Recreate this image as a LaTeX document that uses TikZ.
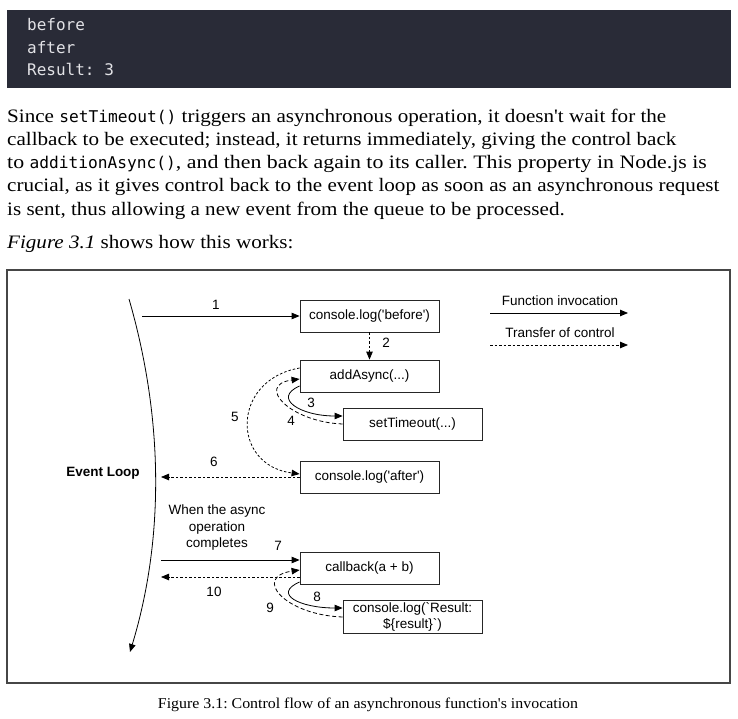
\documentclass[tikz,border=0pt]{standalone}
\usepackage{fontspec}
\setmainfont{Liberation Serif}
\newfontfamily\dsans{Liberation Sans}
\newfontfamily\codefont{DejaVu Sans Mono}
\newfontfamily\bodyfont[FakeStretch=1.11]{Liberation Serif}
\newfontfamily\bodywide[FakeStretch=1.15]{Liberation Serif}
\newfontfamily\capfont[FakeStretch=1.06]{Liberation Serif}
\usetikzlibrary{arrows.meta}
\definecolor{codebg}{RGB}{41,43,55}
\definecolor{codefg}{RGB}{226,226,230}
\definecolor{frameclr}{RGB}{70,70,70}
\newcommand{\cd}[1]{{\codefont\fontsize{16.2}{18}\selectfont #1}}
\newcommand{\sq}{\symbol{"27}}
\frenchspacing
\tikzset{
  para/.style={anchor=base west, inner sep=0pt, font=\bodyfont\fontsize{19}{23}\selectfont},
  codeline/.style={anchor=base west, inner sep=0pt, text=codefg, font=\codefont\fontsize{16}{23}\selectfont},
  fbox/.style={draw=black!85, line width=0.8pt, minimum width=139pt, minimum height=32pt, inner sep=0pt, font=\dsans\fontsize{13.5}{15}\selectfont, align=center},
  lbl/.style={inner sep=0pt, font=\dsans\fontsize{13.5}{15}\selectfont},
  inv/.style={draw=black, line width=0.8pt, -{Triangle[length=8pt,width=6.5pt]}},
  ctl/.style={draw=black, line width=0.8pt, dash pattern=on 2.5pt off 2pt, -{Triangle[length=8pt,width=6.5pt]}},
  dsh/.style={draw=black, line width=0.8pt, dash pattern=on 4pt off 2.5pt, -{Triangle[length=8pt,width=6.5pt]}}
}
\begin{document}
\begin{tikzpicture}[x=1pt,y=-1pt]
\useasboundingbox (0,0) rectangle (738,719);
\fill[white] (0,0) rectangle (738,719);
% code block
\fill[codebg] (7,10) rectangle (731,88);
\node[codeline] (c1) at (27,31) {before};
\node[codeline] (c2) at (27,54) {after};
\node[codeline] (c3) at (27,76) {Result: 3};
% paragraph
\node[para] (p1) at (7,123) {Since \cd{setTimeout()} triggers an asynchronous operation, it doesn\sq t wait for the};
\node[para] (p2) at (7,146) {callback to be executed; instead, it returns immediately, giving the control back};
\node[para, font=\bodywide\fontsize{19}{23}\selectfont] (p3) at (7,169) {to \cd{additionAsync()}, and then back again to its caller. This property in Node.js is};
\node[para] (p4) at (7,192) {crucial, as it gives control back to the event loop as soon as an asynchronous request};
\node[para] (p5) at (7,215) {is sent, thus allowing a new event from the queue to be processed.};
\node[para] (p6) at (7,248) {\textit{Figure 3.1} shows how this works:};
% frame
\draw[frameclr, line width=1.2pt] (7,270) rectangle (730,683);
\node[anchor=base, inner sep=0pt, font=\capfont\fontsize{15}{17}\selectfont] (cap) at (368,708) {Figure 3.1: Control flow of an asynchronous function\sq s invocation};
% event loop
\coordinate (elt) at (129,299);
\coordinate (elb) at (130,652);
\draw[inv] (elt) .. controls (164,420) and (164,540) .. (elb);
\node[lbl, font=\dsans\bfseries\fontsize{13.5}{15}\selectfont] (el) at (103,473) {Event Loop};
% boxes
\node[fbox] (before) at (369.5,316) {console.log(\sq before\sq)};
\node[fbox] (add) at (369.5,376) {addAsync(...)};
\node[fbox] (st) at (412.5,424) {setTimeout(...)};
\node[fbox] (after) at (369.5,477) {console.log(\sq after\sq)};
\node[fbox] (cb) at (369.5,568) {callback(a + b)};
\node[fbox, minimum height=33pt, font=\dsans\fontsize{13.5}{16}\selectfont] (res) at (412.5,616.5) {console.log(\symbol{"60}Result:\\\$\{result\}\symbol{"60})};
% connectors
\coordinate (s1) at (142,316);
\draw[inv] (s1) -- (before.west);
\draw[ctl] (before.south) -- (add.north);
\draw[inv] ([yshift=-10pt]add.west) .. controls (272,398) and (300,416) .. ([yshift=8pt]st.west);
\draw[dsh] (st.west) .. controls (290,422) and (255,385) .. ([yshift=-3pt]add.west);
\draw[ctl] ([yshift=8pt]add.west) .. controls (231,380) and (231,465) .. ([yshift=3pt]after.west);
\coordinate (s6) at (161,477);
\draw[ctl] (after.west) -- (s6);
\coordinate (s7) at (161,560);
\draw[inv] (s7) -- ([yshift=8pt]cb.west);
\coordinate (s10) at (161,577);
\draw[ctl] ([yshift=-9pt]cb.west) -- (s10);
\draw[inv] ([yshift=-14pt]cb.west) .. controls (272,594) and (300,608) .. ([yshift=8.5pt]res.west);
\draw[dsh] ([yshift=-0.5pt]res.west) .. controls (285,615) and (252,577) .. ([yshift=-2pt]cb.west);
% labels
\node[lbl] (l1) at (216,305) {1};
\node[lbl] (l2) at (386,343) {2};
\node[lbl] (l3) at (311,403) {3};
\node[lbl] (l4) at (291,421) {4};
\node[lbl] (l5) at (235,417) {5};
\node[lbl] (l6) at (214,462) {6};
\node[lbl] (l7) at (278,546) {7};
\node[lbl] (l8) at (317,597) {8};
\node[lbl] (l9) at (270,608) {9};
\node[lbl] (l10) at (214,592) {10};
\node[lbl, align=center, font=\dsans\fontsize{13.5}{16.5}\selectfont] (when) at (217,528) {When the async\\operation\\completes};
% legend
\node[lbl] (lg1) at (560,301) {Function invocation};
\coordinate (a1) at (490,313);
\coordinate (b1) at (628,313);
\draw[inv] (a1) -- (b1);
\node[lbl] (lg2) at (560,333) {Transfer of control};
\coordinate (a2) at (490,345);
\coordinate (b2) at (628,345);
\draw[ctl] (a2) -- (b2);
\end{tikzpicture}
\end{document}
